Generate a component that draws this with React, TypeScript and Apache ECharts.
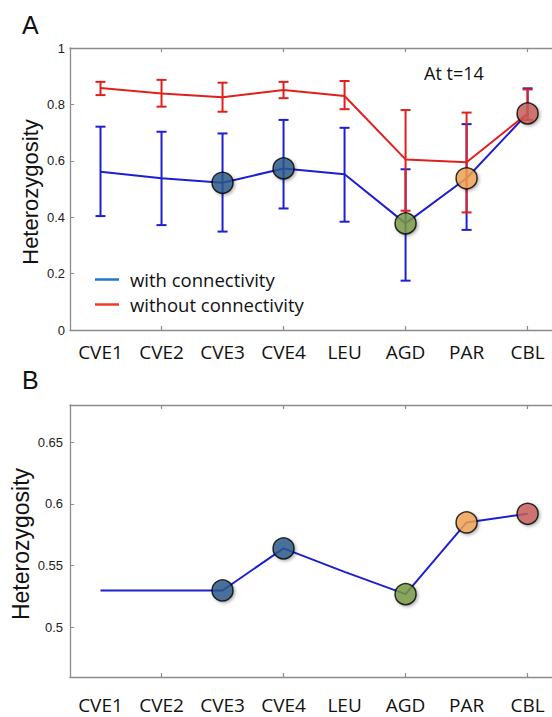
import React, { useEffect, useRef } from "react";
import * as echarts from "echarts";

const categories = ["CVE1", "CVE2", "CVE3", "CVE4", "LEU", "AGD", "PAR", "CBL"];

// Panel A: with connectivity (blue)
const withMean = [0.561, 0.538, 0.522, 0.573, 0.552, 0.378, 0.538, 0.768];
const withUpper = [0.721, 0.703, 0.697, 0.745, 0.717, 0.570, 0.730, 0.857];
const withLower = [0.404, 0.372, 0.349, 0.431, 0.384, 0.175, 0.355, 0.745];

// Panel A: without connectivity (red)
const withoutMean = [0.858, 0.839, 0.825, 0.851, 0.830, 0.605, 0.595, 0.768];
const withoutUpper = [0.880, 0.887, 0.877, 0.880, 0.883, 0.780, 0.771, 0.853];
const withoutLower = [0.833, 0.792, 0.774, 0.822, 0.783, 0.423, 0.417, 0.745];

// Panel B
const panelB = [0.530, 0.530, 0.530, 0.564, 0.545, 0.527, 0.585, 0.592];

// Highlighted sites (index into categories) and their marker colours
const highlightIdx = [2, 3, 5, 6, 7];
const highlightColors = ["#2a5b8c", "#2a5b8c", "#7b9b45", "#f5a554", "#c9605b"];

const yTicksA = [0, 0.2, 0.4, 0.6, 0.8, 1];
const yTicksB = [0.5, 0.55, 0.6, 0.65];
const xTickMarks = [2, 4, 6, 8];

const BLUE = "#1e1ed2";
const RED = "#e0201c";
const AXIS = "#8c8c8c";
const TXT = "#222";

function errRender(color: string) {
  return (params: any, api: any) => {
    const x = api.value(0);
    const lo = api.coord([x, api.value(1)]);
    const hi = api.coord([x, api.value(2)]);
    const w = 5;
    const st = { stroke: color, lineWidth: 2 };
    return {
      type: "group",
      children: [
        { type: "line", shape: { x1: lo[0], y1: lo[1], x2: hi[0], y2: hi[1] }, style: st },
        { type: "line", shape: { x1: lo[0] - w, y1: lo[1], x2: lo[0] + w, y2: lo[1] }, style: st },
        { type: "line", shape: { x1: hi[0] - w, y1: hi[1], x2: hi[0] + w, y2: hi[1] }, style: st },
      ],
    };
  };
}

function xAxes(gridIndex: number, labelMargin: number) {
  const common = {
    gridIndex,
    type: "value" as const,
    min: 0.5,
    max: 8.4,
    splitLine: { show: false },
    axisLine: { show: true, onZero: false, lineStyle: { color: AXIS, width: 1.3 } },
    axisTick: { show: true, inside: true, length: 4, customValues: xTickMarks, lineStyle: { color: AXIS, width: 1.2 } },
  };
  return [
    {
      ...common,
      position: "bottom",
      axisLabel: {
        show: true,
        customValues: categories.map((_, i) => i + 1),
        formatter: (v: number) => categories[Math.round(v) - 1] ?? "",
        margin: labelMargin,
        fontFamily: "Open Sans",
        fontSize: 19,
        color: "#111",
      },
    },
    { ...common, position: "top", axisLabel: { show: false } },
  ];
}

function buildOption() {
  const withData = categories.map((_, i) => [i + 1, withMean[i]]);
  const withoutData = categories.map((_, i) => [i + 1, withoutMean[i]]);
  const withErr = categories.map((_, i) => [i + 1, withLower[i], withUpper[i]]);
  const withoutErr = categories.map((_, i) => [i + 1, withoutLower[i], withoutUpper[i]]);
  const markerA = highlightIdx.map((idx, k) => ({
    value: [idx + 1, withMean[idx]],
    itemStyle: { color: highlightColors[k] },
  }));
  const markerB = highlightIdx.map((idx, k) => ({
    value: [idx + 1, panelB[idx]],
    itemStyle: { color: highlightColors[k] },
  }));
  const markerStyle = {
    borderColor: "#000",
    borderWidth: 1.5,
    shadowColor: "rgba(0,0,0,0.35)",
    shadowBlur: 3,
    shadowOffsetX: 1.5,
    shadowOffsetY: 1.5,
  };
  const yLabel = { fontFamily: "Liberation Sans", fontSize: 13, color: TXT };

  return {
    animation: false,
    backgroundColor: "#fff",
    grid: [
      { left: 70, top: 48, right: 0, height: 282 },
      { left: 70, top: 405, right: 0, height: 272 },
    ],
    xAxis: [...xAxes(0, 12), ...xAxes(1, 18)],
    yAxis: [
      {
        gridIndex: 0,
        type: "value",
        min: 0,
        max: 1,
        interval: 0.2,
        splitLine: { show: false },
        axisLine: { show: true, onZero: false, lineStyle: { color: AXIS, width: 1.3 } },
        axisTick: { show: true, inside: true, length: 4, customValues: yTicksA, lineStyle: { color: AXIS } },
        axisLabel: { ...yLabel, margin: 5, customValues: yTicksA },
      },
      {
        gridIndex: 1,
        type: "value",
        min: 0.46,
        max: 0.68,
        splitLine: { show: false },
        axisLine: { show: true, onZero: false, lineStyle: { color: AXIS, width: 1.3 } },
        axisTick: { show: true, inside: true, length: 4, customValues: yTicksB, lineStyle: { color: AXIS } },
        axisLabel: {
          ...yLabel,
          margin: 7,
          customValues: yTicksB,
          formatter: (v: number) => String(+v.toFixed(2)),
        },
      },
    ],
    legend: {
      left: 90,
      top: 265,
      orient: "vertical",
      itemGap: 6,
      icon: "rect",
      itemWidth: 24,
      itemHeight: 2.5,
      selectedMode: false,
      textStyle: { fontFamily: "Open Sans", fontSize: 18.5, color: "#111", padding: [0, 0, 0, 6] },
      data: [
        { name: "with connectivity", itemStyle: { color: "#1f78c8" } },
        { name: "without connectivity", itemStyle: { color: "#f03a2a" } },
      ],
    },
    graphic: [
      { type: "text", x: 22, y: 25, style: { text: "A", fontFamily: "Liberation Sans", fontSize: 25, fill: "#111", verticalAlign: "middle" } },
      { type: "text", x: 22, y: 380, style: { text: "B", fontFamily: "Liberation Sans", fontSize: 25, fill: "#111", verticalAlign: "middle" } },
      { type: "text", x: 424, y: 73, style: { text: "At t=14", fontFamily: "Open Sans", fontSize: 18, fill: "#111", verticalAlign: "middle" } },
      {
        type: "text", x: 30, y: 192, rotation: Math.PI / 2,
        style: { text: "Heterozygosity", fontFamily: "Liberation Sans", fontSize: 22, fill: "#111", align: "center", verticalAlign: "middle" },
      },
      {
        type: "text", x: 21, y: 544, rotation: Math.PI / 2,
        style: { text: "Heterozygosity", fontFamily: "Liberation Sans", fontSize: 23, fill: "#111", align: "center", verticalAlign: "middle" },
      },
    ],
    series: [
      {
        name: "errWith",
        type: "custom",
        xAxisIndex: 0,
        yAxisIndex: 0,
        renderItem: errRender(BLUE),
        encode: { x: 0, y: [1, 2] },
        data: withErr,
        z: 1,
        silent: true,
      },
      {
        name: "with connectivity",
        type: "line",
        xAxisIndex: 0,
        yAxisIndex: 0,
        data: withData,
        showSymbol: false,
        symbol: "none",
        lineStyle: { color: BLUE, width: 2 },
        itemStyle: { color: BLUE },
        z: 2,
      },
      {
        name: "errWithout",
        type: "custom",
        xAxisIndex: 0,
        yAxisIndex: 0,
        renderItem: errRender(RED),
        encode: { x: 0, y: [1, 2] },
        data: withoutErr,
        z: 3,
        silent: true,
      },
      {
        name: "without connectivity",
        type: "line",
        xAxisIndex: 0,
        yAxisIndex: 0,
        data: withoutData,
        showSymbol: false,
        symbol: "none",
        lineStyle: { color: RED, width: 2 },
        itemStyle: { color: RED },
        z: 4,
      },
      {
        name: "markersA",
        type: "scatter",
        xAxisIndex: 0,
        yAxisIndex: 0,
        symbolSize: 21,
        data: markerA,
        itemStyle: markerStyle,
        z: 10,
      },
      {
        name: "panelB",
        type: "line",
        xAxisIndex: 2,
        yAxisIndex: 1,
        data: categories.map((_, i) => [i + 1, panelB[i]]),
        showSymbol: false,
        symbol: "none",
        lineStyle: { color: BLUE, width: 2 },
        z: 2,
      },
      {
        name: "markersB",
        type: "scatter",
        xAxisIndex: 2,
        yAxisIndex: 1,
        symbolSize: 21,
        data: markerB,
        itemStyle: markerStyle,
        z: 10,
      },
    ],
  };
}

export default function App() {
  const ref = useRef<HTMLDivElement>(null);
  useEffect(() => {
    if (!ref.current) return;
    const chart = echarts.init(ref.current, null, { renderer: "svg" });
    chart.setOption(buildOption() as any);
    return () => chart.dispose();
  }, []);
  return (
    <div
      ref={ref}
      style={{ position: "absolute", left: 0, top: 0, width: 552, height: 717, background: "#fff" }}
    />
  );
}
